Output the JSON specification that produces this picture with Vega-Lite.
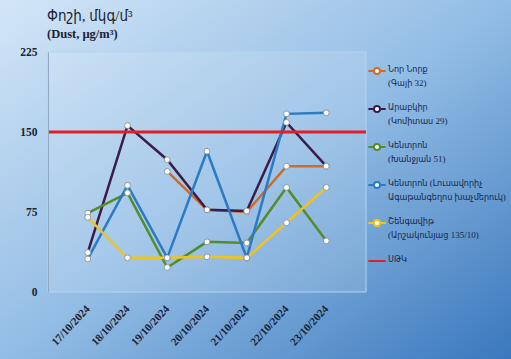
{
  "$schema": "https://vega.github.io/schema/vega-lite/v6.json",
  "width": 511,
  "height": 359,
  "autosize": {"type": "none"},
  "padding": 0,
  "background": "#8fb9e2",
  "config": {"view": {"stroke": null}, "font": "Liberation Serif, DejaVu Sans Condensed, DejaVu Sans, serif"},
  "title": {
    "text": "Փոշի, մկգ/մ³",
    "subtitle": "(Dust, µg/m³)",
    "anchor": "start",
    "frame": "group",
    "offset": -40,
    "dx": 47,
    "fontSize": 15,
    "fontWeight": "normal",
    "color": "#1a2233",
    "subtitleFontSize": 12.5,
    "subtitleFontWeight": "bold",
    "subtitleColor": "#1a2233",
    "subtitlePadding": 4
  },
  "datasets": {
    "dust": [
      {"station": "Նոր Նորք|(Գայի 32)", "date": "2024-10-19", "value": 113},
      {"station": "Նոր Նորք|(Գայի 32)", "date": "2024-10-20", "value": 77},
      {"station": "Նոր Նորք|(Գայի 32)", "date": "2024-10-21", "value": 75},
      {"station": "Նոր Նորք|(Գայի 32)", "date": "2024-10-22", "value": 118},
      {"station": "Նոր Նորք|(Գայի 32)", "date": "2024-10-23", "value": 118},
      {"station": "Արաբկիր|(Կոմիտաս 29)", "date": "2024-10-17", "value": 37},
      {"station": "Արաբկիր|(Կոմիտաս 29)", "date": "2024-10-18", "value": 156},
      {"station": "Արաբկիր|(Կոմիտաս 29)", "date": "2024-10-19", "value": 124},
      {"station": "Արաբկիր|(Կոմիտաս 29)", "date": "2024-10-20", "value": 77},
      {"station": "Արաբկիր|(Կոմիտաս 29)", "date": "2024-10-21", "value": 76},
      {"station": "Արաբկիր|(Կոմիտաս 29)", "date": "2024-10-22", "value": 159},
      {"station": "Արաբկիր|(Կոմիտաս 29)", "date": "2024-10-23", "value": 118},
      {"station": "Կենտրոն|(Խանջյան 51)", "date": "2024-10-17", "value": 74},
      {"station": "Կենտրոն|(Խանջյան 51)", "date": "2024-10-18", "value": 93},
      {"station": "Կենտրոն|(Խանջյան 51)", "date": "2024-10-19", "value": 23},
      {"station": "Կենտրոն|(Խանջյան 51)", "date": "2024-10-20", "value": 47},
      {"station": "Կենտրոն|(Խանջյան 51)", "date": "2024-10-21", "value": 46},
      {"station": "Կենտրոն|(Խանջյան 51)", "date": "2024-10-22", "value": 98},
      {"station": "Կենտրոն|(Խանջյան 51)", "date": "2024-10-23", "value": 48},
      {"station": "Կենտրոն (Լուսավորիչ|Ագաթանգեղոս խաչմերուկ)", "date": "2024-10-17", "value": 31},
      {"station": "Կենտրոն (Լուսավորիչ|Ագաթանգեղոս խաչմերուկ)", "date": "2024-10-18", "value": 100},
      {"station": "Կենտրոն (Լուսավորիչ|Ագաթանգեղոս խաչմերուկ)", "date": "2024-10-19", "value": 32},
      {"station": "Կենտրոն (Լուսավորիչ|Ագաթանգեղոս խաչմերուկ)", "date": "2024-10-20", "value": 132},
      {"station": "Կենտրոն (Լուսավորիչ|Ագաթանգեղոս խաչմերուկ)", "date": "2024-10-21", "value": 32},
      {"station": "Կենտրոն (Լուսավորիչ|Ագաթանգեղոս խաչմերուկ)", "date": "2024-10-22", "value": 167},
      {"station": "Կենտրոն (Լուսավորիչ|Ագաթանգեղոս խաչմերուկ)", "date": "2024-10-23", "value": 168},
      {"station": "Շենգավիթ|(Արշակունյաց 135/10)", "date": "2024-10-17", "value": 70},
      {"station": "Շենգավիթ|(Արշակունյաց 135/10)", "date": "2024-10-18", "value": 32},
      {"station": "Շենգավիթ|(Արշակունյաց 135/10)", "date": "2024-10-19", "value": 32},
      {"station": "Շենգավիթ|(Արշակունյաց 135/10)", "date": "2024-10-20", "value": 33},
      {"station": "Շենգավիթ|(Արշակունյաց 135/10)", "date": "2024-10-21", "value": 32},
      {"station": "Շենգավիթ|(Արշակունյաց 135/10)", "date": "2024-10-22", "value": 65},
      {"station": "Շենգավիթ|(Արշակունյաց 135/10)", "date": "2024-10-23", "value": 98}
    ],
    "limit": [{"station": "ՍԹԿ", "value": 150}]
  },
  "layer": [
    {
      "data": {"values": [{}]},
      "mark": {
        "type": "rect",
        "fill": {
          "gradient": "linear", "x1": 0, "y1": 0, "x2": 1, "y2": 1,
          "stops": [
            {"offset": 0, "color": "#d3e6f7"},
            {"offset": 0.5, "color": "#93bde5"},
            {"offset": 1, "color": "#3a78bd"}
          ]
        }
      },
      "encoding": {}
    },
    {
      "data": {"values": [{}]},
      "mark": {"type": "rect", "fill": "white", "fillOpacity": 0.13, "stroke": "#b6d3ef", "strokeWidth": 1},
      "encoding": {
        "x": {"datum": {"year": 2024, "month": 10, "date": 16, "utc": true}, "type": "temporal",
              "scale": {"type": "utc", "domain": [{"year": 2024, "month": 10, "date": 16, "utc": true}, {"year": 2024, "month": 10, "date": 24, "utc": true}], "range": [48, 366]},
              "axis": {
                "title": null,
                "zindex": 2,
                "values": [
                  {"year": 2024, "month": 10, "date": 17, "utc": true},
                  {"year": 2024, "month": 10, "date": 18, "utc": true},
                  {"year": 2024, "month": 10, "date": 19, "utc": true},
                  {"year": 2024, "month": 10, "date": 20, "utc": true},
                  {"year": 2024, "month": 10, "date": 21, "utc": true},
                  {"year": 2024, "month": 10, "date": 22, "utc": true},
                  {"year": 2024, "month": 10, "date": 23, "utc": true}
                ],
                "labelExpr": "utcFormat(datum.value, '%d/%m/%Y')",
                "offset": -67,
                "labelAngle": -47,
                "labelAlign": "right",
                "labelBaseline": "middle",
                "labelPadding": 15,
                "labelOverlap": false,
                "ticks": false,
                "domain": false,
                "grid": false,
                "labelFontSize": 11,
                "labelFontWeight": "bold",
                "labelColor": "#1a2233"
              }},
        "x2": {"datum": {"year": 2024, "month": 10, "date": 24, "utc": true}},
        "y": {"datum": 0, "type": "quantitative", "scale": {"domain": [0, 225], "range": [292, 52], "nice": false},
              "axis": {
                "title": null,
                "zindex": 2,
                "values": [0, 75, 150, 225],
                "offset": -48,
                "ticks": false,
                "grid": false,
                "domain": true,
                "domainColor": "#8fa9c4",
                "labelPadding": 11,
                "labelFontSize": 11.5,
                "labelFontWeight": "bold",
                "labelColor": "#1a2233"
              }},
        "y2": {"datum": 225}
      }
    },
    {
      "data": {"name": "dust"},
      "mark": {"type": "line", "strokeWidth": 2.5},
      "encoding": {
        "x": {"field": "date", "type": "temporal", "title": null, "axis": {"labelExpr": "utcFormat(datum.value, '%d/%m/%Y')"}},
        "y": {"field": "value", "type": "quantitative", "title": null},
        "stroke": {"field": "station", "type": "nominal",
          "scale": {
            "domain": ["Նոր Նորք|(Գայի 32)", "Արաբկիր|(Կոմիտաս 29)", "Կենտրոն|(Խանջյան 51)", "Կենտրոն (Լուսավորիչ|Ագաթանգեղոս խաչմերուկ)", "Շենգավիթ|(Արշակունյաց 135/10)", "ՍԹԿ"],
            "range": ["#d06a25", "#3a1d4a", "#548c2c", "#2b7bc4", "#f2c418", "#e11f26"]
          },
          "legend": {
            "title": null,
            "orient": "none",
            "legendX": 367,
            "legendY": 61,
            "labelExpr": "split(datum.label, '|')",
            "labelFontSize": 9,
            "labelFontWeight": "normal",
            "labelColor": "#16254a",
            "labelLimit": 220,
            "labelOffset": 1,
            "labelBaseline": "top",
            "symbolSize": 300,
            "symbolStrokeWidth": 2,
            "symbolFillColor": "white",
            "rowPadding": 11,
            "encode": {
              "symbols": {"update": {
                "shape": {"signal": "datum.value === 'ՍԹԿ' ? 'stroke' : 'M-1,0H-0.35M0.35,0H1M-0.35,0A0.35,0.35,0,1,0,0.35,0A0.35,0.35,0,1,0,-0.35,0Z'"},
                "fill": {"value": "white"}
              }},
              "labels": {"update": {"lineHeight": {"value": 14}, "dy": {"value": -6}}}
            }
          }}
      }
    },
    {
      "data": {"name": "dust"},
      "mark": {"type": "point", "filled": true, "fill": "white", "stroke": "#7d8793", "strokeWidth": 0.8, "size": 34, "opacity": 1},
      "encoding": {
        "x": {"field": "date", "type": "temporal", "title": null, "axis": {"labelExpr": "utcFormat(datum.value, '%d/%m/%Y')"}},
        "y": {"field": "value", "type": "quantitative", "title": null}
      }
    },
    {
      "data": {"name": "limit"},
      "mark": {"type": "rule", "strokeWidth": 3},
      "encoding": {
        "y": {"field": "value", "type": "quantitative", "title": null},
        "x": {"datum": {"year": 2024, "month": 10, "date": 16, "utc": true}, "type": "temporal", "axis": {"labelExpr": "utcFormat(datum.value, '%d/%m/%Y')"}},
        "x2": {"datum": {"year": 2024, "month": 10, "date": 24, "utc": true}},
        "stroke": {"field": "station", "type": "nominal"}
      }
    }
  ]
}
